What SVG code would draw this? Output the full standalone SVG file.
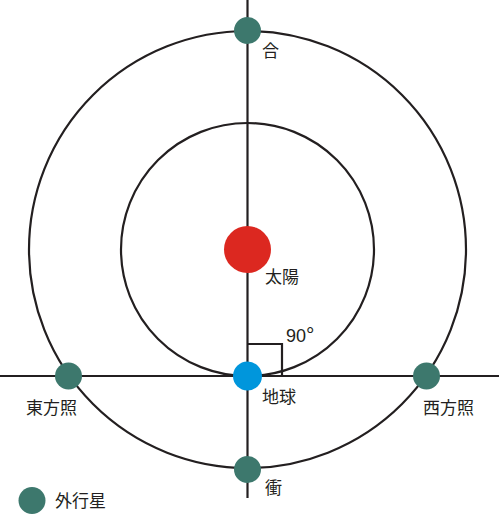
<svg xmlns="http://www.w3.org/2000/svg" width="500" height="515" viewBox="0 0 500 515">
<style>
.ln{fill:none;stroke:#231F20;stroke-width:2.2}
.pl{fill:#3D786D}
.t{font-family:"Liberation Sans","Noto Sans CJK JP",sans-serif;font-size:17px;fill:#231F20}
</style>
<rect width="500" height="515" fill="#fff"/>
<g id="connectors">
<circle class="ln" cx="247.5" cy="249.5" r="218.5"/>
<circle class="ln" cx="247.5" cy="249.5" r="126.5"/>
<line class="ln" x1="247.5" y1="0" x2="247.5" y2="498"/>
<line class="ln" x1="0" y1="376" x2="499" y2="376"/>
<polyline class="ln" points="247.5,344 282,344 282,376"/>
<text class="t" x="286" y="342" style="font-size:18px">90<tspan style="font-size:21px">°</tspan></text>
</g>
<g id="sun"><circle cx="247.5" cy="249.5" r="23.5" fill="#DC2820"/><text class="t" x="265" y="283">太陽</text></g>
<g id="earth"><circle cx="247.5" cy="376" r="14.5" fill="#0096DC"/><text class="t" x="262" y="403">地球</text></g>
<g id="conjunction"><circle class="pl" cx="247.5" cy="30.5" r="13.5"/><text class="t" x="262" y="57">合</text></g>
<g id="opposition"><circle class="pl" cx="247.5" cy="469.5" r="13.5"/><text class="t" x="265" y="494">衝</text></g>
<g id="eastern-quadrature"><circle class="pl" cx="68.5" cy="376" r="13.5"/><text class="t" x="26" y="414">東方照</text></g>
<g id="western-quadrature"><circle class="pl" cx="426.5" cy="376" r="13.5"/><text class="t" x="423" y="414">西方照</text></g>
<g id="legend"><circle class="pl" cx="32" cy="500.5" r="13.5"/><text class="t" x="55" y="507">外行星</text></g>
</svg>
